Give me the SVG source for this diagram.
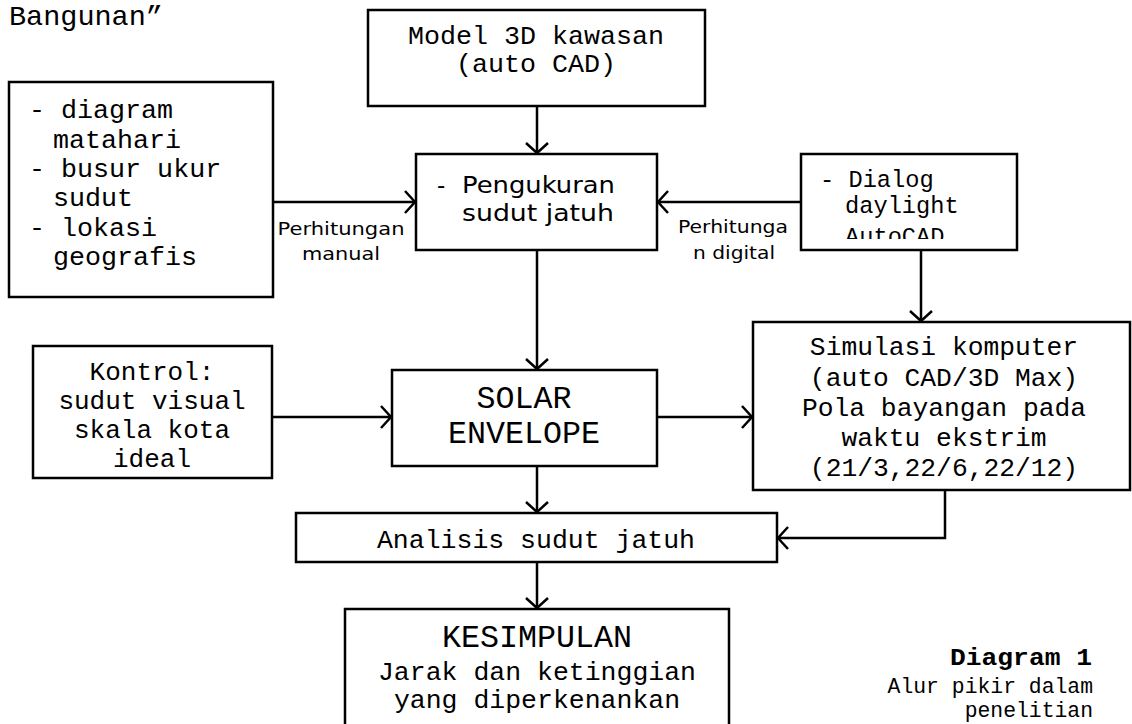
<svg xmlns="http://www.w3.org/2000/svg" width="1132" height="724" viewBox="0 0 1132 724">
<style>
.box{fill:#fff;stroke:#000;stroke-width:2.5}
.mono{font-family:"Liberation Mono","Courier New",monospace;fill:#000}
.sans{font-family:"DejaVu Sans","Liberation Sans",sans-serif;fill:#000}
.c{text-anchor:middle}
.conn{fill:none;stroke:#000;stroke-width:2.5}
</style>
<defs>
<marker id="arr" markerUnits="userSpaceOnUse" markerWidth="30" markerHeight="30" refX="0" refY="0" viewBox="-15 -15 30 30" orient="auto" overflow="visible">
<path d="M-10,-11 L0,0 L-10,11" fill="none" stroke="#000" stroke-width="2.5"/>
</marker>
<clipPath id="dclip"><rect x="801" y="154" width="216" height="85"/></clipPath>
</defs>

<text class="mono" x="9" y="25" font-size="28.5">Bangunan”</text>

<g id="connectors">
<path class="conn" d="M537,106 V153" marker-end="url(#arr)"/>
<path class="conn" d="M273,202 H415" marker-end="url(#arr)"/>
<path class="conn" d="M801,202 H658" marker-end="url(#arr)"/>
<path class="conn" d="M921,250 V321" marker-end="url(#arr)"/>
<path class="conn" d="M537,250 V369" marker-end="url(#arr)"/>
<path class="conn" d="M272,417 H391" marker-end="url(#arr)"/>
<path class="conn" d="M657,417 H752" marker-end="url(#arr)"/>
<path class="conn" d="M537,466 V512" marker-end="url(#arr)"/>
<path class="conn" d="M945,490 V538 H778" marker-end="url(#arr)"/>
<path class="conn" d="M537,562 V608" marker-end="url(#arr)"/>
<text class="sans c" x="341" y="235" font-size="18" textLength="127" lengthAdjust="spacingAndGlyphs">Perhitungan</text>
<text class="sans c" x="341" y="260" font-size="18" textLength="78" lengthAdjust="spacingAndGlyphs">manual</text>
<text class="sans c" x="733" y="233" font-size="18" textLength="110" lengthAdjust="spacingAndGlyphs">Perhitunga</text>
<text class="sans c" x="734" y="259" font-size="18" textLength="82" lengthAdjust="spacingAndGlyphs">n digital</text>
</g>

<g id="model3d">
<rect class="box" x="368" y="10" width="337" height="96"/>
<text class="mono c" x="536" y="44" font-size="26.7">Model 3D kawasan</text>
<text class="mono c" x="536" y="72" font-size="26.7">(auto CAD)</text>
</g>

<g id="manual-inputs">
<rect class="box" x="9" y="82" width="264" height="215"/>
<text class="mono" x="29" y="118" font-size="26.7">- diagram</text>
<text class="mono" x="53" y="148" font-size="26.7">matahari</text>
<text class="mono" x="29" y="177" font-size="26.7">- busur ukur</text>
<text class="mono" x="53" y="206" font-size="26.7">sudut</text>
<text class="mono" x="29" y="236" font-size="26.7">- lokasi</text>
<text class="mono" x="53" y="265" font-size="26.7">geografis</text>
</g>

<g id="pengukuran">
<rect class="box" x="416" y="154" width="241" height="96"/>
<text class="sans" x="437" y="193" font-size="23">-</text>
<text class="sans" x="462" y="193" font-size="23" textLength="153" lengthAdjust="spacingAndGlyphs">Pengukuran</text>
<text class="sans" x="462" y="221" font-size="23" textLength="152" lengthAdjust="spacingAndGlyphs">sudut jatuh</text>
</g>

<g id="dialog">
<rect class="box" x="801" y="154" width="216" height="96"/>
<g clip-path="url(#dclip)">
<text class="mono" x="820" y="187" font-size="23.7">- Dialog</text>
<text class="mono" x="845" y="213" font-size="23.7">daylight</text>
<text class="mono" x="845" y="244" font-size="23.7">AutoCAD</text>
</g>
</g>

<g id="kontrol">
<rect class="box" x="33" y="346" width="239" height="132"/>
<text class="mono c" x="152" y="380" font-size="26">Kontrol:</text>
<text class="mono c" x="152" y="409" font-size="26">sudut visual</text>
<text class="mono c" x="152" y="438" font-size="26">skala kota</text>
<text class="mono c" x="152" y="467" font-size="26">ideal</text>
</g>

<g id="solar">
<rect class="box" x="392" y="370" width="265" height="96"/>
<text class="mono c" x="524" y="408" font-size="31.7">SOLAR</text>
<text class="mono c" x="524" y="443" font-size="31.7">ENVELOPE</text>
</g>

<g id="simulasi">
<rect class="box" x="753" y="322" width="377" height="168"/>
<text class="mono c" x="944" y="355" font-size="26.3">Simulasi komputer</text>
<text class="mono c" x="944" y="386" font-size="26.3">(auto CAD/3D Max)</text>
<text class="mono c" x="944" y="416" font-size="26.3">Pola bayangan pada</text>
<text class="mono c" x="944" y="446" font-size="26.3">waktu ekstrim</text>
<text class="mono c" x="944" y="476" font-size="26.3">(21/3,22/6,22/12)</text>
</g>

<g id="analisis">
<rect class="box" x="296" y="513" width="481" height="49"/>
<text class="mono c" x="536" y="548" font-size="26.5">Analisis sudut jatuh</text>
</g>

<g id="kesimpulan">
<rect class="box" x="345" y="609" width="384" height="125"/>
<text class="mono c" x="537" y="647" font-size="31.7">KESIMPULAN</text>
<text class="mono c" x="537" y="680" font-size="26.5">Jarak dan ketinggian</text>
<text class="mono c" x="537" y="708" font-size="26.5">yang diperkenankan</text>
</g>

<g id="caption">
<text class="mono" x="1092" y="665" font-size="24" font-weight="bold" text-anchor="end" textLength="142" lengthAdjust="spacingAndGlyphs">Diagram 1</text>
<text class="mono" x="1093" y="693" font-size="21.4" text-anchor="end">Alur pikir dalam</text>
<text class="mono" x="1093" y="717" font-size="21.4" text-anchor="end">penelitian</text>
</g>
</svg>
